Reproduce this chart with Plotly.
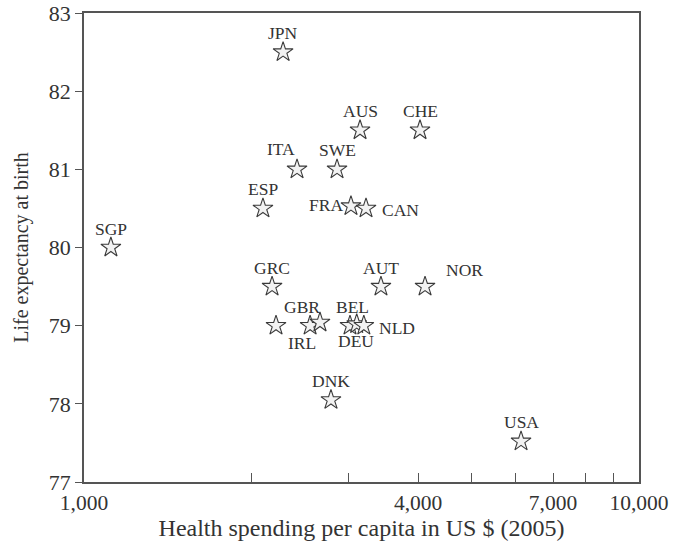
import math
import plotly.graph_objects as go

# Health spending per capita (US $, 2005) vs life expectancy at birth
countries = ["SGP", "JPN", "ITA", "SWE", "ESP", "AUS", "CHE", "FRA", "CAN",
             "GRC", "AUT", "NOR", "IRL", "GBR", "", "BEL", "DEU", "NLD",
             "DNK", "USA"]
spending = [1118, 2284, 2420, 2857, 2101, 3143, 4031, 3027, 3222,
            2182, 3428, 4116, 2218, 2555, 2662, 3015, 3100, 3193,
            2786, 6130]
life_exp = [80.0, 82.5, 81.0, 81.0, 80.5, 81.5, 81.5, 80.53, 80.5,
            79.5, 79.5, 79.5, 79.0, 79.0, 79.04, 79.0, 79.02, 79.0,
            78.05, 77.52]

x_ticks = [1000, 4000, 7000, 10000]
x_tick_text = ["1,000", "4,000", "7,000", "10,000"]
x_minor = [2000, 3000, 5000, 6000, 8000, 9000]
y_ticks = [77, 78, 79, 80, 81, 82, 83]

# label placement: (xanchor, xshift, yshift) in pixels
label_pos = {
    "ITA": ("center", -16, 20), "FRA": ("right", -6, 1),
    "CAN": ("left", 14, -2), "NOR": ("left", 19, 17),
    "GBR": ("center", -8, 19), "IRL": ("center", 26, -17),
    "DEU": ("center", -1, -17), "NLD": ("left", 13, -2),
    "BEL": ("center", 2, 19),
}

FONT = "Liberation Serif"
INK = "#333333"

fig = go.Figure()

fig.add_trace(go.Scatter(
    x=spending,
    y=life_exp,
    mode="markers",
    marker=dict(symbol="star", size=15, color="#f2f2f2",
                line=dict(color="#3a3a3a", width=1.1)),
    hoverinfo="text",
    text=countries,
    showlegend=False,
))

for c, xv, yv in zip(countries, spending, life_exp):
    if not c:
        continue
    anchor, dx, dy = label_pos.get(c, ("center", 0, 19))
    # annotations on a log axis take log10 positions
    fig.add_annotation(x=math.log10(xv), y=yv, xref="x", yref="y", text=c,
                       showarrow=False, xanchor=anchor, xshift=dx, yshift=dy,
                       font=dict(family=FONT, size=17.5, color=INK))

fig.update_layout(
    width=673,
    height=551,
    margin=dict(l=84, r=34, t=13, b=69),
    paper_bgcolor="white",
    plot_bgcolor="white",
    font=dict(family=FONT, color=INK),
    xaxis=dict(
        type="log",
        range=[3, 4],
        automargin=False,
        tickvals=x_ticks,
        ticktext=x_tick_text,
        ticklabeloverflow="allow",
        ticks="inside",
        ticklen=9,
        tickcolor="#555555",
        tickfont=dict(family=FONT, size=21.5, color=INK),
        minor=dict(tickvals=x_minor, ticks="inside", ticklen=9,
                   tickcolor="#555555"),
        showgrid=False,
        zeroline=False,
        showline=True,
        linecolor="#555555",
        linewidth=1.5,
        mirror=True,
        title=dict(text="Health spending per capita in US $ (2005)",
                   font=dict(family=FONT, size=24, color=INK), standoff=3),
    ),
    xaxis2=dict(
        type="log",
        range=[3, 4],
        overlaying="x",
        anchor="y",
        side="bottom",
        automargin=False,
        tickvals=[5000],
        ticks="outside",
        ticklen=6,
        tickcolor="#555555",
        showticklabels=False,
        showgrid=False,
        zeroline=False,
        showline=False,
    ),
    yaxis=dict(
        range=[77, 83],
        automargin=False,
        tickvals=y_ticks,
        ticklabeloverflow="allow",
        ticks="outside",
        ticklen=7,
        tickcolor="#555555",
        tickfont=dict(family=FONT, size=22, color=INK),
        showgrid=False,
        zeroline=False,
        showline=True,
        linecolor="#555555",
        linewidth=1.5,
        mirror=True,
        title=dict(text="Life expectancy at birth",
                   font=dict(family=FONT, size=20, color=INK), standoff=15),
    ),
)

# drop the default body margin so the figure sits at the page corner
fig.write_html("out.html", config={"displayModeBar": False},
               post_script="document.body.style.margin='0';")
